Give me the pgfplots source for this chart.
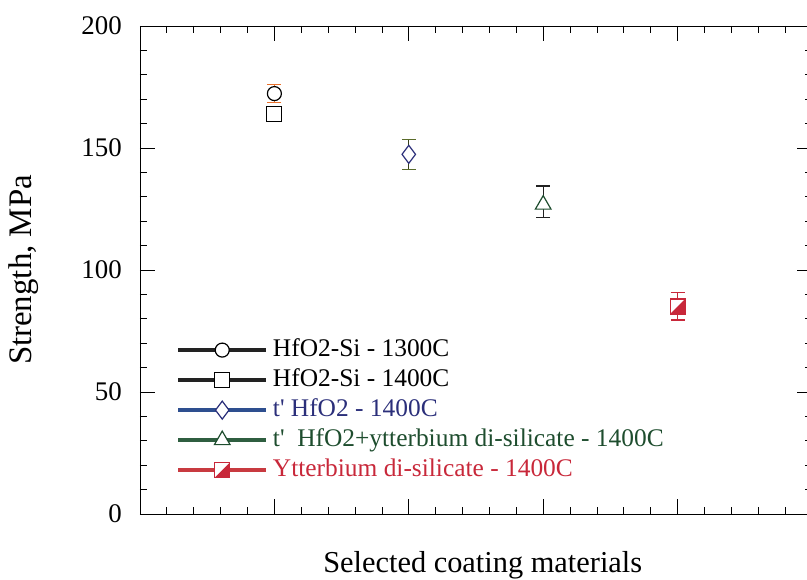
\documentclass[border=0pt]{standalone}
\usepackage{fontspec}
\setmainfont{Liberation Serif}
\usepackage{pgfplots}
\pgfplotsset{compat=1.18}
\definecolor{errorange}{HTML}{E8702A}
\definecolor{navy}{HTML}{2B2F7A}
\definecolor{navyline}{HTML}{2E4F8F}
\definecolor{olive}{HTML}{5A6B2A}
\definecolor{dgreen}{HTML}{1E4D2E}
\definecolor{dgreenline}{HTML}{2F5E40}
\definecolor{cred}{HTML}{C8283A}
\definecolor{credline}{HTML}{C83A40}
\definecolor{dblack}{HTML}{222222}
\pgfdeclareplotmark{halfsq}{%
  \pgfscope
  \pgfsetfillcolor{white}%
  \pgfpathrectangle{\pgfqpoint{-\pgfplotmarksize}{-\pgfplotmarksize}}{\pgfqpoint{2\pgfplotmarksize}{2\pgfplotmarksize}}%
  \pgfusepathqfill
  \endpgfscope
  \pgfpathmoveto{\pgfqpoint{-\pgfplotmarksize}{-\pgfplotmarksize}}%
  \pgfpathlineto{\pgfqpoint{\pgfplotmarksize}{-\pgfplotmarksize}}%
  \pgfpathlineto{\pgfqpoint{\pgfplotmarksize}{\pgfplotmarksize}}%
  \pgfpathclose
  \pgfusepathqfill
  \pgfpathrectangle{\pgfqpoint{-\pgfplotmarksize}{-\pgfplotmarksize}}{\pgfqpoint{2\pgfplotmarksize}{2\pgfplotmarksize}}%
  \pgfusepathqstroke
}
\pgfplotsset{legline/.style={legend image code/.code={
  \draw[line width=3.5bp, draw=#1] (0bp,0bp) -- (88bp,0bp);
  \draw[mark repeat=2, mark phase=2, ##1] plot coordinates {(0bp,0bp) (44bp,0bp) (88bp,0bp)};
}}}
\begin{document}
\begin{tikzpicture}
\begin{axis}[
  scale only axis, width=672bp, height=488bp,
  xmin=0, xmax=5, ymin=0, ymax=200,
  xtick={0,1,2,3,4,5}, xticklabels={}, minor x tick num=4,
  ytick={0,50,100,150,200}, minor y tick num=4,
  tick align=inside, major tick length=15bp, minor tick length=7bp,
  tick style={black, line width=0.8bp},
  axis line style={line width=0.9bp},
  /pgf/number format/assume math mode=true,
  ticklabel style={font=\fontsize{27}{30}\selectfont},
  yticklabel style={inner sep=0pt, xshift=-18bp},
  every axis y label/.style={at={(axis description cs:-0.173,0.5)}, rotate=90, anchor=center, font=\fontsize{33}{36}\selectfont},
  every axis x label/.style={at={(axis description cs:0.51,-0.105)}, anchor=center, font=\fontsize{30.5}{34}\selectfont},
  ylabel={Strength, MPa},
  xlabel={Selected coating materials},
  legend cell align=left,
  legend style={draw=none, fill=none, inner sep=0pt, at={(axis description cs:0.054,0.367)}, anchor=north west,
    font=\fontsize{25.5}{28}\selectfont,
    column sep=2bp,
    nodes={text height=18bp, text depth=6bp, inner sep=3bp}},
]
\addplot[only marks, mark=*, mark size=7bp, line width=1.2bp, mark options={draw=black, fill=white}, legline=dblack,
  error bars/.cd, y dir=both, y explicit,
  error bar style={color=errorange, line width=1.2bp},
  error mark options={rotate=90, mark size=7bp, color=errorange, line width=1.2bp}]
  coordinates {(1,172.3) +- (0,3.6)};
\addlegendentry{HfO2-Si - 1300C}
\addplot[only marks, mark=square*, mark size=7.5bp, line width=1.2bp, mark options={draw=black, fill=white}, legline=dblack,
  error bars/.cd, y dir=both, y explicit,
  error bar style={color=black, line width=1.2bp},
  error mark options={rotate=90, mark size=6bp, color=black, line width=1.2bp}]
  coordinates {(1,163.8) +- (0,2)};
\addlegendentry{HfO2-Si - 1400C}
\addplot[only marks, mark=diamond*, mark size=9bp, line width=1.2bp, mark options={draw=navy, fill=white}, legline=navyline,
  error bars/.cd, y dir=both, y explicit,
  error bar style={color=olive!60!black, line width=1.2bp},
  error mark options={rotate=90, mark size=7bp, color=olive, line width=1.4bp}]
  coordinates {(2,147.4) +- (0,6.1)};
\addlegendentry{\textcolor{navy}{t\textquotesingle{} HfO2 - 1400C}}
\addplot[only marks, mark=triangle*, mark size=9bp, line width=1.2bp, mark options={draw=dgreen, fill=white}, legline=dgreenline,
  error bars/.cd, y dir=both, y explicit,
  error bar style={color=dblack, line width=1.2bp},
  error mark options={rotate=90, mark size=7bp, color=dblack, line width=1.4bp}]
  coordinates {(3,126.8) += (0,7.7) -= (0,5.4)};
\addlegendentry{\textcolor{dgreen}{t\textquotesingle\ \ HfO2+ytterbium di-silicate - 1400C}}
\addplot[only marks, mark=halfsq, mark size=7.5bp, line width=1.2bp, mark options={draw=cred, fill=cred}, legline=credline,
  error bars/.cd, y dir=both, y explicit,
  error bar style={color=cred, line width=1.2bp},
  error mark options={rotate=90, mark size=7bp, color=cred, line width=1.4bp}]
  coordinates {(4,85.0) += (0,5.7) -= (0,5.5)};
\addlegendentry{\textcolor{cred}{Ytterbium di-silicate - 1400C}}
\end{axis}
\pgfresetboundingbox
\path[use as bounding box] (-140bp,-66bp) rectangle (667bp,514bp);
\end{tikzpicture}
\end{document}
